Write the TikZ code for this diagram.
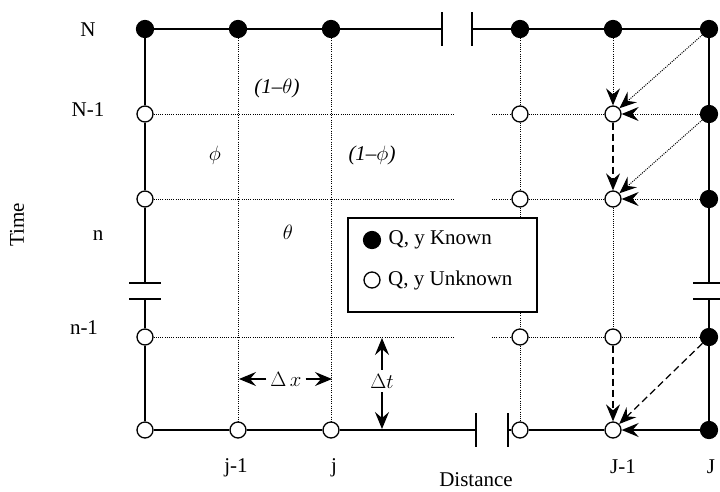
\documentclass[tikz,border=0pt]{standalone}
\usepackage{fontspec}
\setmainfont{Liberation Serif}
\usetikzlibrary{arrows.meta,positioning}

\tikzset{
  known/.style={circle, draw, fill=black, line width=1.2pt, minimum size=17pt, inner sep=0pt},
  unknown/.style={circle, draw, fill=white, line width=1.3pt, minimum size=16pt, inner sep=0pt},
  bound/.style={line width=1.6pt},
  gridline/.style={line width=1pt, dash pattern=on 1pt off 1.2pt},
  longdash/.style={line width=1.3pt, dash pattern=on 7pt off 4pt},
  arr/.style={-{Stealth[length=17pt,width=14pt,inset=6pt]}},
}

\begin{document}
\begin{tikzpicture}[x=1pt, y=-1pt, font=\fontsize{21}{25}\selectfont]
    \useasboundingbox (0,0) rectangle (720,491);
    % mesh points
    \foreach \c/\x in {l/145, a/238, b/331, c/520, d/613, e/709}
        \node[known] (\c-N) at (\x,29) {};
    \foreach \r/\y in {M/114, K/199, P/337, B/430}
        \node[known] (e-\r) at (709,\y) {};
    \foreach \c/\x in {l/145, c/520, d/613}
        \foreach \r/\y in {M/114, K/199, P/337, B/430}
            \node[unknown] (\c-\r) at (\x,\y) {};
    \node[unknown] (a-B) at (238,430) {};
    \node[unknown] (b-B) at (331,430) {};

    % break marks
    \coordinate (tL) at (442,29);
    \coordinate (tR) at (472,29);
    \coordinate (lT) at (145,283);
    \coordinate (lB) at (145,299);
    \coordinate (rT) at (709,283);
    \coordinate (rB) at (709,299);
    \coordinate (bL) at (476,430);
    \coordinate (bR) at (508,430);
    \foreach \p in {tL, tR, bL, bR}
        \draw[bound] (\p) ++(0,-17) -- ++(0,34);
    \foreach \p in {lT, lB, rT, rB}
        \draw[bound] (\p) ++(-16,0) -- ++(32,0);

    % boundary
    \draw[bound] (l-N) -- (a-N) -- (b-N) -- (tL);
    \draw[bound] (tR) -- (c-N) -- (d-N) -- (e-N);
    \draw[bound] (l-N) -- (l-M) -- (l-K) -- (lT);
    \draw[bound] (lB) -- (l-P) -- (l-B);
    \draw[bound] (l-B) -- (a-B) -- (b-B) -- (bL);
    \draw[bound] (bR) -- (c-B) -- (d-B);
    \draw[bound] (e-N) -- (e-M) -- (e-K) -- (rT);
    \draw[bound] (rB) -- (e-P) -- (e-B);

    % interior grid
    \foreach \r/\y in {M/114, K/199, P/337} {
        \coordinate (gL-\r) at (455,\y);
        \coordinate (gR-\r) at (492,\y);
        \draw[gridline] (l-\r) -- (gL-\r);
        \draw[gridline] (gR-\r) -- (c-\r) -- (d-\r);
    }
    \draw[gridline] (d-P) -- (e-P);
    \draw[gridline] (a-N) -- (a-B);
    \draw[gridline] (b-N) -- (b-B);
    \draw[gridline] (c-N) -- (c-M) -- (c-K) -- (c-P) -- (c-B);
    \draw[gridline] (d-K) -- (d-P);

    % characteristics into J-1
    \draw[gridline, arr] (d-N) -- (d-M);
    \draw[gridline, arr] (e-N) -- (d-M);
    \draw[gridline, arr] (e-M) -- (d-M);
    \draw[longdash, arr] (d-M) -- (d-K);
    \draw[gridline, arr] (e-M) -- (d-K);
    \draw[gridline, arr] (e-K) -- (d-K);
    \draw[longdash, arr] (d-P) -- (d-B);
    \draw[longdash, arr] (e-P) -- (d-B);
    \draw[bound, arr] (e-B) -- (d-B);

    % weights
    \node (wt1) at (277,88) {\itshape (1--$\theta$)};
    \node (wp) at (215,155) {$\phi$};
    \node (wp1) at (372,155) {\itshape (1--$\phi$)};
    \node (wt) at (288,232) {$\theta$};

    % legend
    \node[draw, line width=1.3pt, fill=white, minimum width=189pt, minimum height=94pt] (legend) at (442.5,265) {};
    \node[known] (kdot) at (372,240) {};
    \node[right=4pt of kdot] (ktext) {Q, y Known};
    \node[unknown] (udot) at (372,280) {};
    \node[right=4pt of udot] (utext) {Q, y Unknown};

    % steps
    \coordinate (dxL) at (239,379);
    \coordinate (dxR) at (332,379);
    \node[inner sep=4pt] (dx) at (286,379) {$\Delta\, x$};
    \draw[line width=1.2pt, arr] (dx) -- (dxL);
    \draw[line width=1.2pt, arr] (dx) -- (dxR);
    \coordinate (dtT) at (382,338);
    \coordinate (dtB) at (382,429);
    \node[inner sep=4pt] (dt) at (382,381) {$\Delta t$};
    \draw[line width=1.2pt, arr] (dt) -- (dtT);
    \draw[line width=1.2pt, arr] (dt) -- (dtB);

    % axis labels
    \node (rowN) at (88,30) {N};
    \node (rowM) at (88,110) {N-1};
    \node (rown) at (98,236) {n};
    \node (rowP) at (84,328) {n-1};
    \node[rotate=90] (time) at (17,225) {Time};
    \node (colA) at (236,468) {j-1};
    \node (colB) at (334,468) {j};
    \node (colD) at (623,467) {J-1};
    \node (colE) at (711,467) {J};
    \node (dist) at (476,480) {Distance};
\end{tikzpicture}
\end{document}
